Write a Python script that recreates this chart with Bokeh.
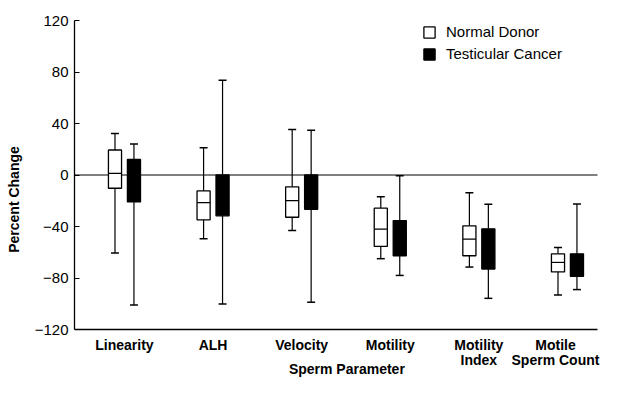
import numpy as np
from bokeh.plotting import figure
from bokeh.models import (ColumnDataSource, Range1d, FixedTicker, Legend, LegendItem)
from bokeh.core.properties import value
from bokeh.embed import file_html
from bokeh.resources import INLINE

# ---- data ----
categories = ["Linearity", "ALH", "Velocity", "Motility", "Motility\nIndex", "Motile\nSperm Count"]

nd_low  = [-60.6, -49.5, -43.1, -65.0, -71.5, -93.2]
nd_q1   = [-10.3, -34.8, -32.8, -55.5, -62.7, -75.3]
nd_med  = [1.3, -21.4, -19.9, -42.1, -49.8, -67.9]
nd_q3   = [19.4, -12.4, -9.2, -25.8, -39.5, -61.2]
nd_high = [32.3, 21.1, 35.4, -16.8, -13.7, -56.3]

tc_low  = [-100.9, -100.1, -98.8, -78.0, -95.8, -89.0]
tc_q1   = [-20.9, -31.7, -26.6, -62.7, -73.0, -78.7]
tc_med  = [0.0, -15.0, -12.0, -48.0, -58.0, -70.0]
tc_q3   = [12.1, 0.0, 0.0, -35.4, -41.8, -61.2]
tc_high = [24.0, 73.5, 34.8, -0.5, -22.7, -22.5]

y_ticks = [-120, -80, -40, 0, 40, 80, 120]
x_title = "Sperm Parameter"
y_title = "Percent Change"

FONT = "Liberation Sans"
BOX_W = 0.148
CAP_W = 0.09
OFFSET = 0.107
Y_MIN, Y_MAX = -120, 120

W, H = 602, 378
LEFT, TOP, AXIS_BOTTOM = 74, 20, 329       # canvas pixels
PX_PER_CAT = 88.6
X0 = -0.564                                 # data x at the left frame edge
X_AXIS_END = 5.339                          # where the x axis line ends

px_per_unit = (AXIS_BOTTOM - TOP) / (Y_MAX - Y_MIN)
y_bottom = Y_MIN - (H - AXIS_BOTTOM) / px_per_unit
x_end = X0 + (W - LEFT) / PX_PER_CAT

p = figure(width=W, height=H, output_backend="svg", toolbar_location=None,
           x_range=Range1d(X0, x_end), y_range=Range1d(y_bottom, Y_MAX))
p.min_border_left = LEFT
p.min_border_right = 0
p.min_border_top = TOP
p.min_border_bottom = 0
p.outline_line_color = None
p.xgrid.visible = False
p.ygrid.visible = False
p.xaxis.visible = False
p.background_fill_color = "white"
p.border_fill_color = "white"

idx = np.arange(len(categories))


def draw(xpos, low, q1, med, q3, high, fill):
    src = ColumnDataSource(dict(x=xpos, low=low, q1=q1, med=med, q3=q3, high=high,
                                xl=xpos - CAP_W / 2, xr=xpos + CAP_W / 2,
                                bl=xpos - BOX_W / 2, br=xpos + BOX_W / 2))
    p.segment(x0="x", y0="q3", x1="x", y1="high", source=src, line_color="black", line_width=1.2)
    p.segment(x0="x", y0="q1", x1="x", y1="low", source=src, line_color="black", line_width=1.2)
    p.segment(x0="xl", y0="high", x1="xr", y1="high", source=src, line_color="black", line_width=1.5)
    p.segment(x0="xl", y0="low", x1="xr", y1="low", source=src, line_color="black", line_width=1.5)
    r = p.vbar(x="x", width=BOX_W, top="q3", bottom="q1", source=src,
               fill_color=fill, line_color="black", line_width=1.3)
    p.segment(x0="bl", y0="med", x1="br", y1="med", source=src, line_color="black", line_width=1.2)
    return r


# zero line and x axis line
p.segment(x0=[X0], y0=[0], x1=[X_AXIS_END], y1=[0], line_color="black", line_width=1)
p.segment(x0=[X0], y0=[Y_MIN], x1=[X_AXIS_END], y1=[Y_MIN], line_color="black", line_width=1.3)

r_nd = draw(idx - OFFSET, nd_low, nd_q1, nd_med, nd_q3, nd_high, "white")
r_tc = draw(idx + OFFSET, tc_low, tc_q1, tc_med, tc_q3, tc_high, "black")

# category labels (one or two lines) below the x axis line;
# the last one is nudged left so that it stays inside the picture
line1 = [c.split("\n")[0] for c in categories]
line2 = [c.split("\n")[1] if "\n" in c else "" for c in categories]
nudge = [0] * (len(categories) - 1) + [-12]
lab_src = ColumnDataSource(dict(x=idx, y=[Y_MIN] * len(idx), t1=line1, t2=line2, dx=nudge))
common = dict(text_align="center", text_baseline="top", text_font=value(FONT),
              text_font_style="bold", text_font_size="14px", text_color="black")
p.text(x="x", y="y", text="t1", source=lab_src, x_offset="dx", y_offset=7, **common)
p.text(x="x", y="y", text="t2", source=lab_src, x_offset="dx", y_offset=22, **common)

p.text(x=[2.51], y=[Y_MIN], text=[x_title], text_align="center", text_baseline="alphabetic",
       y_offset=39, text_font=value(FONT), text_font_style="bold", text_font_size="14px",
       text_color="black")

p.yaxis.bounds = (Y_MIN, Y_MAX)
p.yaxis.ticker = FixedTicker(ticks=y_ticks)
p.yaxis.major_tick_in = 5
p.yaxis.major_tick_out = 0
p.yaxis.minor_tick_line_color = None
p.yaxis.major_tick_line_color = "black"
p.yaxis.major_label_standoff = 6
p.yaxis.major_label_text_font = FONT
p.yaxis.major_label_text_font_size = "15px"
p.yaxis.major_label_text_color = "black"
p.yaxis.axis_label = y_title
p.yaxis.axis_label_text_font = FONT
p.yaxis.axis_label_text_font_style = "bold"
p.yaxis.axis_label_text_font_size = "14px"
p.yaxis.axis_label_text_color = "black"
p.yaxis.axis_label_standoff = 10
p.yaxis.axis_line_color = "black"
p.yaxis.axis_line_width = 1.3

legend = Legend(items=[LegendItem(label="Normal Donor", renderers=[r_nd]),
                       LegendItem(label="Testicular Cancer", renderers=[r_tc])],
                location=(348, 316), orientation="vertical",
                glyph_width=14, glyph_height=14, label_height=14,
                label_standoff=10, spacing=5, padding=0, margin=0,
                border_line_color=None, background_fill_alpha=0,
                label_text_font=FONT, label_text_font_size="15px",
                label_text_color="black")
p.add_layout(legend)

open("out.html", "w").write(file_html(p, INLINE))
